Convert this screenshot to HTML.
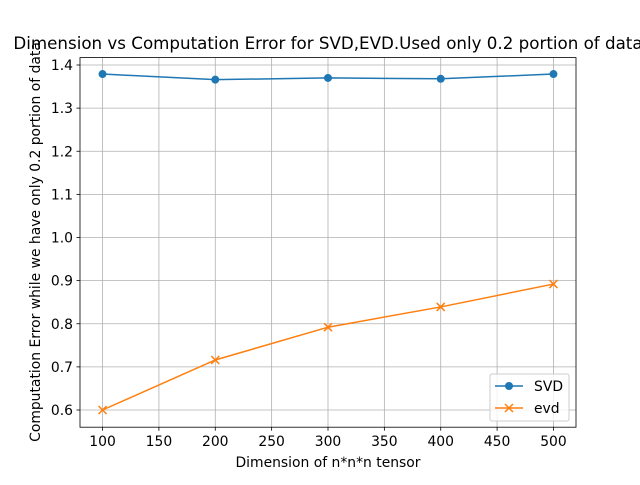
<!DOCTYPE html>
<html><head><meta charset="utf-8"><style>
body{margin:0;background:#fff}
svg text{font-family:"DejaVu Sans","Liberation Sans",sans-serif;fill:#000}
</style></head><body>
<svg id="chart" width="640" height="480" viewBox="0 0 640 480">
<rect x="0" y="0" width="640" height="480" fill="#fff"/>
<g id="grid"></g>
<g id="ticks"></g>
<g id="series"></g>
<rect x="80" y="57.6" width="496" height="369.6" fill="none" stroke="#000" stroke-width="0.8"/>
<text x="328" y="49" text-anchor="middle" font-size="16.7">Dimension vs Computation Error for SVD,EVD.Used only 0.2 portion of data</text>
<text x="328" y="467" text-anchor="middle" font-size="13.9">Dimension of n*n*n tensor</text>
<text transform="translate(40,242) rotate(-90)" text-anchor="middle" font-size="13.9">Computation Error while we have only 0.2 portion of data</text>
<g>
<rect x="490" y="374" width="79" height="47" rx="2" fill="#fff" fill-opacity="0.8" stroke="#ccc" stroke-width="1"/>
<g>
<line x1="495" y1="386" x2="523" y2="386" stroke="#1f77b4" stroke-width="1.5"/>
<circle cx="509" cy="386" r="4" fill="#1f77b4"/>
<text x="534" y="391" font-size="13.9">SVD</text></g>
<g>
<line x1="495" y1="408" x2="523" y2="408" stroke="#ff7f0e" stroke-width="1.5"/>
<path d="M505,404L513,412M505,412L513,404" stroke="#ff7f0e" stroke-width="1.5"/>
<text x="534" y="413" font-size="13.9">evd</text></g>
</g>
</svg>
<script>
const categories=[100,200,300,400,500];
const svdValues=[1.379,1.366,1.370,1.368,1.379];
const evdValues=[0.600,0.716,0.792,0.839,0.892];
const xTicks=[100,150,200,250,300,350,400,450,500];
const yTicks=[0.6,0.7,0.8,0.9,1.0,1.1,1.2,1.3,1.4];
const NS='http://www.w3.org/2000/svg';
function xs(v){return 80+(v-80)*496/440;}
function ys(v){return 410-(v-0.6)*431.25;}
function mk(t,a,p){const e=document.createElementNS(NS,t);for(const k in a)e.setAttribute(k,a[k]);p.appendChild(e);return e;}
const grid=document.getElementById('grid'),ticks=document.getElementById('ticks'),ser=document.getElementById('series');
xTicks.forEach(v=>{const x=xs(v);
 const g=mk('line',{x1:x,x2:x,y1:57.6,y2:427.2,stroke:'#b0b0b0','stroke-width':0.8},grid);
 
 
 mk('line',{x1:x,x2:x,y1:427.2,y2:430.7,stroke:'#000','stroke-width':0.8},ticks);
 const t=mk('text',{x:x,y:446,'text-anchor':'middle','font-size':13.9},ticks);t.textContent=v;
 
 });
yTicks.forEach(v=>{const y=ys(v);
 const g=mk('line',{x1:80,x2:576,y1:y,y2:y,stroke:'#b0b0b0','stroke-width':0.8},grid);
 
 
 mk('line',{x1:76.5,x2:80,y1:y,y2:y,stroke:'#000','stroke-width':0.8},ticks);
 const t=mk('text',{x:73,y:y+5,'text-anchor':'end','font-size':13.9},ticks);t.textContent=v.toFixed(1);
 
 });
function draw(vals,color,name,marker){
 const l=mk('polyline',{points:vals.map((v,i)=>xs(categories[i])+','+ys(v)).join(' '),fill:'none',stroke:color,'stroke-width':1.5},ser);
 
 
 vals.forEach((v,i)=>{const x=xs(categories[i]),y=ys(v);let m;
  if(marker==='o')m=mk('circle',{cx:x,cy:y,r:4,fill:color},ser);
  else m=mk('path',{d:`M${x-4},${y-4}L${x+4},${y+4}M${x-4},${y+4}L${x+4},${y-4}`,stroke:color,'stroke-width':1.5},ser);
  
  });
}
draw(svdValues,'#1f77b4','svd','o');
draw(evdValues,'#ff7f0e','evd','x');
</script>
</body></html>
